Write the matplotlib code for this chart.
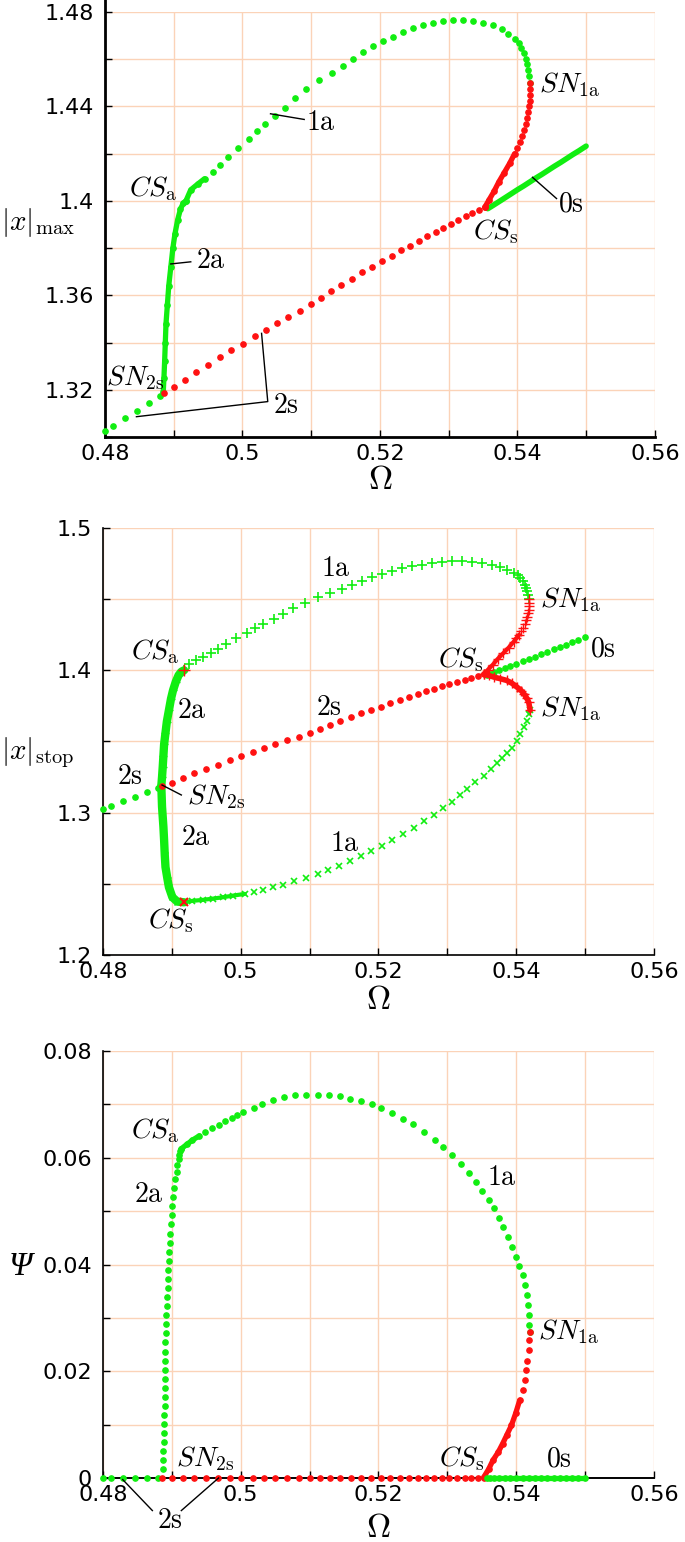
import matplotlib
matplotlib.use("Agg")
import matplotlib.pyplot as plt
from matplotlib.ticker import FixedLocator, FuncFormatter

plt.rcParams["mathtext.fontset"] = "cm"
plt.rcParams["font.family"] = ["DejaVu Sans"]

GREEN = "#11ee11"
RED = "#ff1111"
GRID = "#fbd3b8"

# symmetric branch 2s (stable part, then unstable part up to CS_s)
om_2s_s = [0.4800, 0.4812, 0.4829, 0.4847, 0.4864, 0.4880]
x_2s_s = [1.3024, 1.3048, 1.3082, 1.3112, 1.3145, 1.3175]
om_2s_u = [0.4886, 0.4900, 0.4916, 0.4933, 0.4950, 0.4967, 0.4984, 0.5001, 0.5018, 0.5034,
           0.5050, 0.5067, 0.5084, 0.5100, 0.5115, 0.5129, 0.5144, 0.5160, 0.5174, 0.5189,
           0.5203, 0.5217, 0.5231, 0.5244, 0.5257, 0.5269, 0.5281, 0.5292, 0.5303, 0.5314,
           0.5325, 0.5334, 0.5344, 0.5353]
x_2s_u = [1.3187, 1.3210, 1.3243, 1.3276, 1.3307, 1.3337, 1.3367, 1.3396, 1.3426, 1.3452,
          1.3481, 1.3509, 1.3534, 1.3563, 1.3590, 1.3617, 1.3645, 1.3670, 1.3697, 1.3721,
          1.3745, 1.3768, 1.3791, 1.3811, 1.3831, 1.3852, 1.3870, 1.3887, 1.3902, 1.3918,
          1.3934, 1.3948, 1.3962, 1.3974]

# symmetric branch 0s (stable, after CS_s)
om_0s = [0.5357, 0.5362, 0.5368, 0.5375, 0.5383, 0.5391, 0.5400, 0.5409, 0.5418,
         0.5427, 0.5436, 0.5445, 0.5454, 0.5463, 0.5472, 0.5481, 0.5490, 0.5500]
x_0s = [1.3967, 1.3976, 1.3987, 1.4000, 1.4015, 1.4030, 1.4047, 1.4063, 1.4080,
        1.4097, 1.4113, 1.4130, 1.4147, 1.4163, 1.4180, 1.4197, 1.4213, 1.4232]

# asymmetric branch 2a, upper half (SN_2s -> CS_a) and lower half (CS_s -> SN_2s)
om_2a_up = [0.4885, 0.4886, 0.4887, 0.4888, 0.4889, 0.4891, 0.4893, 0.4896, 0.4899,
            0.4902, 0.4906, 0.4910, 0.4914, 0.4918]
x_2a_up = [1.3190, 1.3250, 1.3320, 1.3400, 1.3480, 1.3560, 1.3640, 1.3720, 1.3800,
           1.3860, 1.3920, 1.3965, 1.3990, 1.4000]
om_2a_lo = [0.4918, 0.4908, 0.4901, 0.4896, 0.4894, 0.4891, 0.4890, 0.4889, 0.4888,
            0.4886, 0.4885]
x_2a_lo = [1.2370, 1.2375, 1.2406, 1.2476, 1.2530, 1.2618, 1.2700, 1.2807, 1.2900,
           1.3042, 1.3184]

# asymmetric branch 1a, upper half: stable CS_a -> SN_1a, unstable SN_1a -> CS_s
om_1a_up = [0.4918, 0.4925, 0.4935, 0.4945, 0.4957, 0.4967, 0.4979, 0.4994, 0.5009, 0.5021,
            0.5033, 0.5048, 0.5062, 0.5076, 0.5093, 0.5112, 0.5130, 0.5147, 0.5161, 0.5176,
            0.5190, 0.5205, 0.5219, 0.5234, 0.5248, 0.5263, 0.5277, 0.5292, 0.5307, 0.5321,
            0.5336, 0.5350, 0.5365, 0.5377, 0.5386, 0.5396, 0.5402, 0.5406, 0.5410, 0.5412,
            0.5414, 0.5416, 0.5417, 0.5418]
x_1a_up = [1.4000, 1.4047, 1.4071, 1.4094, 1.4123, 1.4153, 1.4184, 1.4224, 1.4264, 1.4295,
           1.4325, 1.4361, 1.4394, 1.4436, 1.4476, 1.4514, 1.4542, 1.4573, 1.4601, 1.4630,
           1.4656, 1.4677, 1.4696, 1.4717, 1.4731, 1.4743, 1.4755, 1.4762, 1.4767, 1.4767,
           1.4762, 1.4755, 1.4743, 1.4726, 1.4708, 1.4684, 1.4668, 1.4649, 1.4625, 1.4601,
           1.4578, 1.4554, 1.4527, 1.4500]
om_1a_up_u = [0.5419, 0.5419, 0.5419, 0.5418, 0.5417, 0.5416, 0.5414, 0.5412, 0.5410,
              0.5407, 0.5404, 0.5400, 0.5396, 0.5389, 0.5381, 0.5373, 0.5366, 0.5359, 0.5353]
x_1a_up_u = [1.4500, 1.4475, 1.4450, 1.4425, 1.4400, 1.4375, 1.4350, 1.4325, 1.4300,
             1.4275, 1.4250, 1.4225, 1.4200, 1.4160, 1.4120, 1.4080, 1.4040, 1.4005, 1.3975]

# asymmetric branch 1a, lower half (|x|_stop only)
om_1a_lo = [0.4918, 0.4930, 0.4945, 0.4960, 0.4975, 0.4989, 0.5006, 0.5020, 0.5033, 0.5047,
            0.5062, 0.5077, 0.5095, 0.5112, 0.5127, 0.5143, 0.5159, 0.5174, 0.5189, 0.5205,
            0.5219, 0.5235, 0.5252, 0.5266, 0.5281, 0.5294, 0.5307, 0.5319, 0.5328, 0.5340,
            0.5353, 0.5363, 0.5372, 0.5379, 0.5386, 0.5394, 0.5401, 0.5406, 0.5411, 0.5415,
            0.5418, 0.5420]
x_1a_lo = [1.2370, 1.2380, 1.2387, 1.2396, 1.2406, 1.2417, 1.2429, 1.2441, 1.2458, 1.2476,
           1.2495, 1.2519, 1.2542, 1.2571, 1.2594, 1.2625, 1.2660, 1.2693, 1.2729, 1.2764,
           1.2807, 1.2847, 1.2894, 1.2941, 1.2983, 1.3031, 1.3078, 1.3125, 1.3165, 1.3212,
           1.3255, 1.3307, 1.3349, 1.3384, 1.3420, 1.3455, 1.3502, 1.3552, 1.3600, 1.3646,
           1.3690, 1.3720]
om_1a_lo_u = [0.5353, 0.5360, 0.5367, 0.5376, 0.5386, 0.5394, 0.5401, 0.5407, 0.5411,
              0.5415, 0.5418, 0.5420]
x_1a_lo_u = [1.3974, 1.3964, 1.3953, 1.3942, 1.3929, 1.3908, 1.3882, 1.3858, 1.3835,
             1.3805, 1.3776, 1.3720]

# phase difference Psi
om_2a_psi = [0.4887, 0.4888, 0.4888, 0.4889, 0.4889, 0.4889, 0.4889, 0.4890, 0.4890, 0.4890,
             0.4890, 0.4891, 0.4891, 0.4891, 0.4891, 0.4892, 0.4892, 0.4892, 0.4893, 0.4893,
             0.4894, 0.4894, 0.4895, 0.4896, 0.4896, 0.4897, 0.4898, 0.4899, 0.4900, 0.4901,
             0.4902, 0.4903, 0.4905, 0.4907, 0.4908, 0.4910, 0.4911, 0.4912, 0.4914]
psi_2a = [0.0017, 0.0033, 0.0050, 0.0067, 0.0084, 0.0101, 0.0118, 0.0135, 0.0152, 0.0169,
          0.0186, 0.0203, 0.0220, 0.0237, 0.0254, 0.0271, 0.0288, 0.0305, 0.0322, 0.0339,
          0.0356, 0.0373, 0.0390, 0.0407, 0.0424, 0.0441, 0.0458, 0.0475, 0.0492, 0.0509,
          0.0526, 0.0543, 0.0560, 0.0574, 0.0586, 0.0597, 0.0606, 0.0612, 0.0617]
om_1a_psi = [0.4914, 0.4922, 0.4930, 0.4940, 0.4949, 0.4958, 0.4968, 0.4978, 0.4987, 0.4995,
             0.5003, 0.5019, 0.5031, 0.5047, 0.5063, 0.5079, 0.5095, 0.5113, 0.5128, 0.5144,
             0.5158, 0.5174, 0.5190, 0.5204, 0.5220, 0.5235, 0.5250, 0.5266, 0.5282, 0.5294,
             0.5307, 0.5320, 0.5331, 0.5341, 0.5350, 0.5360, 0.5367, 0.5375, 0.5381, 0.5388,
             0.5394, 0.5399, 0.5404, 0.5409, 0.5412, 0.5415, 0.5417, 0.5418, 0.5419, 0.5420]
psi_1a = [0.0617, 0.0625, 0.0633, 0.0641, 0.0648, 0.0655, 0.0661, 0.0668, 0.0675, 0.0680,
          0.0686, 0.0694, 0.0700, 0.0709, 0.0714, 0.0717, 0.0718, 0.0718, 0.0718, 0.0715,
          0.0711, 0.0706, 0.0700, 0.0694, 0.0684, 0.0673, 0.0663, 0.0648, 0.0634, 0.0620,
          0.0605, 0.0589, 0.0571, 0.0555, 0.0538, 0.0520, 0.0505, 0.0488, 0.0470, 0.0452,
          0.0433, 0.0414, 0.0398, 0.0380, 0.0361, 0.0342, 0.0324, 0.0305, 0.0286, 0.0274]
om_1a_psi_u = [0.5420, 0.5419, 0.5418, 0.5416, 0.5414, 0.5412, 0.5409, 0.5405, 0.5399,
               0.5393, 0.5386, 0.5380, 0.5374, 0.5366, 0.5360, 0.5353]
psi_1a_u = [0.0274, 0.0258, 0.0239, 0.0220, 0.0202, 0.0183, 0.0164, 0.0146, 0.0121,
            0.0099, 0.0080, 0.0064, 0.0049, 0.0033, 0.0017, 0.0002]

x_ticks = [0.48, 0.50, 0.52, 0.54, 0.56]

TXT = 20


def dots(ax, om, val, color, marker="o", ms=3.8, mew=1.0):
    ax.plot(om, val, ls="none", marker=marker, ms=ms, mew=mew, color=color, clip_on=False, zorder=3)


def band(ax, om, val, color, lw=3.8):
    # densely packed continuation points look like a solid stroke
    ax.plot(om, val, color=color, lw=lw, solid_capstyle="round", clip_on=False, zorder=3)


def label(ax, x, y, s, ha="left", va="center", size=TXT):
    ax.text(x, y, s, ha=ha, va=va, fontsize=size, zorder=5)


def pointer(ax, xs, ys):
    ax.plot(xs, ys, color="black", lw=1.0, clip_on=False, zorder=4)


def fmt(v, pos):
    return ("%.2f" % v).rstrip("0").rstrip(".")


def style_axes(ax, y_major, y_minor, ylim, spine_w):
    ax.set_xlim(0.48, 0.56)
    ax.set_ylim(*ylim)
    ax.xaxis.set_major_locator(FixedLocator(x_ticks))
    ax.xaxis.set_minor_locator(FixedLocator([0.49, 0.51, 0.53, 0.55]))
    ax.yaxis.set_major_locator(FixedLocator(y_major))
    ax.yaxis.set_minor_locator(FixedLocator(y_minor))
    ax.xaxis.set_major_formatter(FuncFormatter(fmt))
    ax.yaxis.set_major_formatter(FuncFormatter(fmt))
    ax.grid(True, which="both", color=GRID, lw=1.0, zorder=0)
    ax.set_axisbelow(True)
    ax.spines[["top", "right"]].set_visible(False)
    for side in ["left", "bottom"]:
        ax.spines[side].set_linewidth(spine_w)
    ax.tick_params(which="both", direction="in", length=5, width=1, labelsize=16, pad=5)
    ax.tick_params(axis="y", pad=8)


def omega_label(ax, ypos):
    ax.set_xlabel(r"$\Omega$", fontsize=24)
    ax.xaxis.label.set_va("center")
    ax.xaxis.set_label_coords(0.5, ypos)


fig = plt.figure(figsize=(6.85, 15.42), dpi=100)
ax1 = fig.add_axes([0.153, 0.7166, 0.803, 0.2756])
ax2 = fig.add_axes([0.150, 0.3807, 0.805, 0.2769])
ax3 = fig.add_axes([0.150, 0.0415, 0.805, 0.2769])

# ---- |x|_max
style_axes(ax1, [1.32, 1.36, 1.40, 1.44, 1.48], [1.30, 1.34, 1.38, 1.42, 1.46], (1.30, 1.48), 2.0)
ax1.spines["left"].set_bounds(1.30, 1.485)
band(ax1, om_2a_up, x_2a_up, GREEN)
dots(ax1, om_2a_up, x_2a_up, GREEN)
band(ax1, om_1a_up[:4], x_1a_up[:4], GREEN)
dots(ax1, om_1a_up, x_1a_up, GREEN)
band(ax1, om_0s, x_0s, GREEN, lw=4)
dots(ax1, om_2s_s, x_2s_s, GREEN)
band(ax1, om_1a_up_u[12:], x_1a_up_u[12:], RED)
dots(ax1, om_1a_up_u, x_1a_up_u, RED)
dots(ax1, om_2s_u, x_2s_u, RED)

label(ax1, 0.5432, 1.4492, r"$SN_{1\rm a}$")
label(ax1, 0.4905, 1.4050, r"$CS_{\rm a}$", ha="right")
label(ax1, 0.5335, 1.3868, r"$CS_{\rm s}$")
label(ax1, 0.5092, 1.4335, r"$\rm 1a$")
pointer(ax1, [0.5041, 0.5090], [1.4369, 1.4345])
label(ax1, 0.5459, 1.3990, r"$\rm 0s$")
pointer(ax1, [0.5422, 0.5457], [1.4100, 1.4010])
label(ax1, 0.4933, 1.3750, r"$\rm 2a$")
pointer(ax1, [0.4896, 0.4925], [1.3733, 1.3742])
label(ax1, 0.4886, 1.3250, r"$SN_{2\rm s}$", ha="right")
label(ax1, 0.5045, 1.3137, r"$\rm 2s$")
pointer(ax1, [0.5028, 0.5037, 0.4846], [1.3439, 1.3150, 1.3086])
omega_label(ax1, -0.099)
ax1.set_ylabel(r"$|x|_{\rm max}$", fontsize=21, rotation=0, ha="center", va="center")
ax1.yaxis.set_label_coords(-0.122, 0.505)

# ---- |x|_stop
style_axes(ax2, [1.2, 1.3, 1.4, 1.5], [1.25, 1.35, 1.45], (1.2, 1.5), 1.2)
band(ax2, om_2a_up, x_2a_up, GREEN, lw=6)
band(ax2, om_2a_lo, x_2a_lo, GREEN, lw=6)
dots(ax2, om_2a_up, x_2a_up, GREEN, marker="+", ms=6)
dots(ax2, om_2a_lo, x_2a_lo, GREEN, marker="x", ms=5)
dots(ax2, om_1a_up, x_1a_up, GREEN, marker="+", ms=7, mew=1.2)
band(ax2, om_1a_lo[:7], x_1a_lo[:7], GREEN, lw=3)
dots(ax2, om_1a_lo, x_1a_lo, GREEN, marker="x", ms=5, mew=1.2)
dots(ax2, om_0s, x_0s, GREEN)
dots(ax2, om_2s_s, x_2s_s, GREEN)
dots(ax2, om_2s_u, x_2s_u, RED)
band(ax2, om_1a_up_u[10:], x_1a_up_u[10:], RED, lw=3)
dots(ax2, om_1a_up_u, x_1a_up_u, RED, marker="+", ms=7)
band(ax2, om_1a_lo_u, x_1a_lo_u, RED, lw=4)
dots(ax2, om_1a_lo_u, x_1a_lo_u, RED, marker="+", ms=7)
dots(ax2, [om_1a_up[0]], [x_1a_up[0]], RED, marker="+", ms=8)
dots(ax2, [om_1a_lo[0]], [x_1a_lo[0]], RED, marker="x", ms=6, mew=1.5)

label(ax2, 0.5117, 1.4717, r"$\rm 1a$")
label(ax2, 0.5435, 1.4494, r"$SN_{1\rm a}$")
label(ax2, 0.5507, 1.4155, r"$\rm 0s$")
label(ax2, 0.4911, 1.4131, r"$CS_{\rm a}$", ha="right")
label(ax2, 0.5287, 1.4077, r"$CS_{\rm s}$")
label(ax2, 0.4907, 1.3721, r"$\rm 2a$")
label(ax2, 0.5110, 1.3744, r"$\rm 2s$")
label(ax2, 0.5435, 1.3733, r"$SN_{1\rm a}$")
label(ax2, 0.4820, 1.3257, r"$\rm 2s$")
label(ax2, 0.4922, 1.3112, r"$SN_{2\rm s}$")
pointer(ax2, [0.4886, 0.4914], [1.3194, 1.3124])
label(ax2, 0.4913, 1.2826, r"$\rm 2a$")
label(ax2, 0.5130, 1.2784, r"$\rm 1a$")
label(ax2, 0.4866, 1.2240, r"$CS_{\rm s}$")
omega_label(ax2, -0.105)
ax2.set_ylabel(r"$|x|_{\rm stop}$", fontsize=21, rotation=0, ha="center", va="center")
ax2.yaxis.set_label_coords(-0.118, 0.473)

# ---- Psi
zeros_2s_s = [0.0] * len(om_2s_s)
zeros_2s_u = [0.0] * len(om_2s_u)
zeros_0s = [0.0] * len(om_0s)
style_axes(ax3, [0.0, 0.02, 0.04, 0.06, 0.08], [0.01, 0.03, 0.05, 0.07], (0.0, 0.08), 1.2)
ax3.plot([0.48, 0.56], [0, 0], color="black", lw=1.2, clip_on=False, zorder=2)
dots(ax3, om_2a_psi, psi_2a, GREEN)
band(ax3, om_1a_psi[:4], psi_1a[:4], GREEN)
dots(ax3, om_1a_psi, psi_1a, GREEN)
dots(ax3, om_2s_s, zeros_2s_s, GREEN)
dots(ax3, om_2s_u, zeros_2s_u, RED)
band(ax3, om_1a_psi_u[7:], psi_1a_u[7:], RED)
dots(ax3, om_1a_psi_u, psi_1a_u, RED)
band(ax3, om_0s, zeros_0s, GREEN)
dots(ax3, om_0s, zeros_0s, GREEN)

label(ax3, 0.4911, 0.0651, r"$CS_{\rm a}$", ha="right")
label(ax3, 0.4889, 0.0533, r"$\rm 2a$", ha="right")
label(ax3, 0.5358, 0.0564, r"$\rm 1a$")
label(ax3, 0.5432, 0.0274, r"$SN_{1\rm a}$")
label(ax3, 0.4906, 0.0036, r"$SN_{2\rm s}$")
label(ax3, 0.5355, 0.0036, r"$CS_{\rm s}$", ha="right")
label(ax3, 0.5443, 0.0036, r"$\rm 0s$")
label(ax3, 0.4879, -0.0078, r"$\rm 2s$")
pointer(ax3, [0.4829, 0.4872], [-0.0003, -0.0061])
pointer(ax3, [0.4968, 0.4914], [0.0, -0.0061])
omega_label(ax3, -0.116)
ax3.set_ylabel("Ψ", fontsize=24, family="Liberation Serif", style="italic",
               rotation=0, ha="center", va="center")
ax3.yaxis.set_label_coords(-0.149, 0.495)

fig.savefig("out.png", dpi=100)
